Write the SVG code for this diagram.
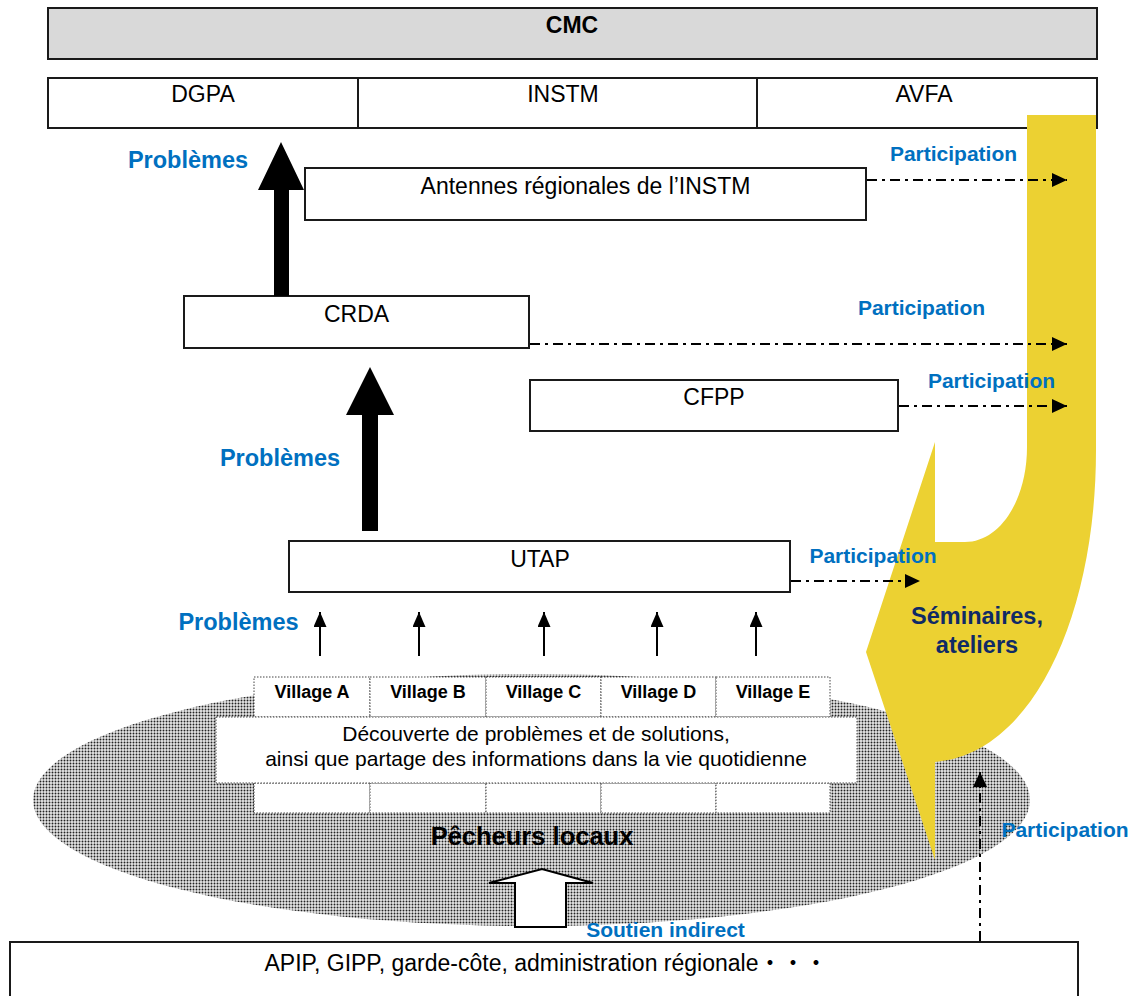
<svg xmlns="http://www.w3.org/2000/svg" width="1133" height="996" viewBox="0 0 1133 996">
<style>
text{font-family:"Liberation Sans",Arial,"Noto Sans CJK JP",sans-serif;}
.box{fill:#fff;stroke:#1a1a1a;stroke-width:2;}
.lbl{font-size:23px;fill:#000;text-anchor:middle;}
.blue{font-size:21px;font-weight:bold;fill:#0070c0;text-anchor:middle;}
.prob{font-size:23.5px;font-weight:bold;fill:#0070c0;text-anchor:middle;}
.vbox{fill:#fff;stroke:#444;stroke-width:1;stroke-dasharray:1.5 1.5;}
.vl{font-size:18px;font-weight:bold;fill:#000;text-anchor:middle;}
.dd{stroke:#000;stroke-width:2;fill:none;stroke-dasharray:10 5 3 5;marker-end:url(#ah);}
.sa{stroke:#000;stroke-width:2;fill:none;marker-end:url(#sh);}
</style>
<defs>
<pattern id="dots" width="3" height="3" patternUnits="userSpaceOnUse">
<rect width="3" height="3" fill="#e6e6e6"/>
<circle cx="1.5" cy="1.5" r="0.95" fill="#222"/>
</pattern>
<marker id="ah" markerUnits="userSpaceOnUse" markerWidth="16" markerHeight="15" refX="15" refY="7" orient="auto">
<path d="M0,0 L15,7 L0,14 Z" fill="#000"/>
</marker>
<marker id="sh" markerUnits="userSpaceOnUse" markerWidth="16" markerHeight="14" refX="15" refY="6.5" orient="auto">
<path d="M0,0 L15,6.5 L0,13 Z" fill="#000"/>
</marker>
</defs>
<rect width="1133" height="996" fill="#fff"/>

<g id="cmc">
<rect x="48" y="8" width="1049" height="51" fill="#d9d9d9" stroke="#1a1a1a" stroke-width="2"/>
<text x="572" y="33" font-size="23" font-weight="bold" text-anchor="middle">CMC</text>
</g>
<g id="ministries">
<rect class="box" x="48" y="78" width="1049" height="50"/>
<line x1="358" y1="78" x2="358" y2="128" stroke="#1a1a1a" stroke-width="2"/>
<line x1="757" y1="78" x2="757" y2="128" stroke="#1a1a1a" stroke-width="2"/>
<text class="lbl" x="203" y="102">DGPA</text>
<text class="lbl" x="563" y="102">INSTM</text>
<text class="lbl" x="924" y="102">AVFA</text>
</g>

<g id="pecheurs">
<ellipse cx="531.5" cy="800" rx="498.5" ry="126" fill="url(#dots)"/>
<text x="532" y="845" font-size="25.5" font-weight="bold" text-anchor="middle">Pêcheurs locaux</text>
</g>

<g id="villages">
<rect class="vbox" x="254" y="677" width="116" height="40"/>
<rect class="vbox" x="370" y="677" width="116" height="40"/>
<rect class="vbox" x="486" y="677" width="115" height="40"/>
<rect class="vbox" x="601" y="677" width="115" height="40"/>
<rect class="vbox" x="716" y="677" width="114" height="40"/>
<text class="vl" x="312" y="698">Village A</text>
<text class="vl" x="428" y="698">Village B</text>
<text class="vl" x="543.5" y="698">Village C</text>
<text class="vl" x="658.5" y="698">Village D</text>
<text class="vl" x="773" y="698">Village E</text>
<rect class="vbox" x="254" y="783" width="116" height="30"/>
<rect class="vbox" x="370" y="783" width="116" height="30"/>
<rect class="vbox" x="486" y="783" width="115" height="30"/>
<rect class="vbox" x="601" y="783" width="115" height="30"/>
<rect class="vbox" x="716" y="783" width="114" height="30"/>
</g>
<g id="decouverte">
<rect class="vbox" x="216" y="717" width="641" height="66"/>
<text x="536" y="741" font-size="21" text-anchor="middle">Découverte de problèmes et de solutions,</text>
<text x="536" y="766" font-size="21" text-anchor="middle">ainsi que partage des informations dans la vie quotidienne</text>
</g>

<g id="seminaires">
<path d="M1027,115 H1096 V450 C1096,620 1030,755 935,762 V860 L866,652 L935,442 V542 H965 C1000,542 1027,500 1027,447 Z" fill="#ecd132"/>
<text x="977" y="624" font-size="23.5" font-weight="bold" fill="#0f2a66" text-anchor="middle">Séminaires,</text>
<text x="977" y="653" font-size="23.5" font-weight="bold" fill="#0f2a66" text-anchor="middle">ateliers</text>
</g>

<g id="antennes">
<rect class="box" x="305" y="168" width="561" height="52"/>
<text class="lbl" x="585.5" y="194">Antennes régionales de l’INSTM</text>
</g>
<g id="crda">
<rect class="box" x="184" y="296" width="345" height="52"/>
<text class="lbl" x="356.5" y="322">CRDA</text>
</g>
<g id="cfpp">
<rect class="box" x="530" y="380" width="368" height="51"/>
<text class="lbl" x="714" y="405">CFPP</text>
</g>
<g id="utap">
<rect class="box" x="289" y="541" width="501" height="51"/>
<text class="lbl" x="540" y="567">UTAP</text>
</g>
<g id="appui">
<rect class="box" x="10" y="942" width="1068" height="60"/>
<text class="lbl" x="546" y="971">APIP, GIPP, garde-côte, administration régionale・・・</text>
</g>

<g id="connectors">
<polygon points="274,296 274,190 258,190 281,142 304,190 289,190 289,296" fill="#000"/>
<polygon points="362,531 362,415 346,415 370,367 394,415 378,415 378,531" fill="#000"/>
<line class="sa" x1="320" y1="656" x2="320" y2="612"/>
<line class="sa" x1="419" y1="656" x2="419" y2="612"/>
<line class="sa" x1="544" y1="656" x2="544" y2="612"/>
<line class="sa" x1="657" y1="656" x2="657" y2="612"/>
<line class="sa" x1="756" y1="656" x2="756" y2="612"/>
<line class="dd" x1="867" y1="180" x2="1067" y2="180"/>
<line class="dd" x1="530" y1="344" x2="1067" y2="344"/>
<line class="dd" x1="899" y1="406" x2="1067" y2="406"/>
<line class="dd" x1="791" y1="581" x2="920" y2="581"/>
<line class="dd" x1="980" y1="941" x2="980" y2="772"/>
<polygon points="515,927 515,883 489,883 542,869 593,883 566,883 566,927" fill="#fff" stroke="#000" stroke-width="2" stroke-linejoin="miter"/>
</g>

<g id="labels">
<text class="prob" x="188" y="168">Problèmes</text>
<text class="prob" x="280" y="466">Problèmes</text>
<text class="prob" x="238.5" y="630">Problèmes</text>
<text class="blue" x="953.5" y="161">Participation</text>
<text class="blue" x="921.5" y="315">Participation</text>
<text class="blue" x="991.5" y="388">Participation</text>
<text class="blue" x="873" y="563">Participation</text>
<text class="blue" x="1065" y="837">Participation</text>
<text class="blue" x="665.5" y="937">Soutien indirect</text>
</g>
</svg>
